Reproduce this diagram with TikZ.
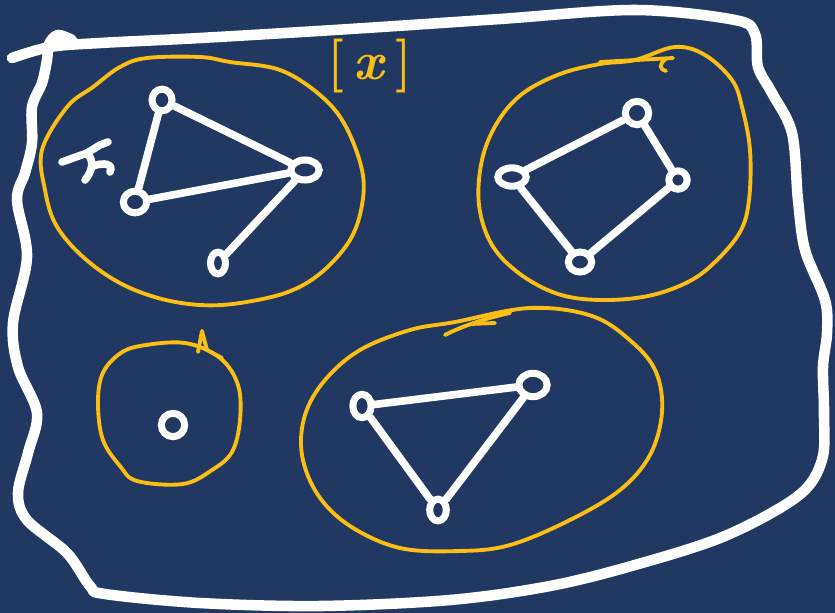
\documentclass[tikz,border=0pt]{standalone}
\usepackage{fontspec}
\usepackage{xcolor}
\usepackage{tikz}
\usetikzlibrary{
  positioning,
  shapes.geometric
}
\definecolor{boardnavy}{RGB}{33, 56, 99}
\definecolor{chalkyellow}{RGB}{250, 190, 20}

\begin{document}
\begin{tikzpicture}[x=0.03cm,y=-0.03cm,
  vtx/.style={ellipse,draw=white,line width=6pt,inner sep=0pt,minimum width=5.5mm,minimum height=5.5mm},
  link/.style={white,line width=6.5pt,line cap=round},
  hull/.style={chalkyellow,line width=3.3pt,line cap=round,line join=round},
  frame/.style={white,line width=9pt,line cap=round,line join=round}]
\fill[boardnavy] (0,0) rectangle (835,613);
\useasboundingbox (0,0) rectangle (835,613);
% outer boundary
\draw[frame] plot[smooth,tension=0.55] coordinates {
  (12,58) (50,47) (100,43) (200,38) (350,29) (500,19) (635,10) (735,20) (755,34)
  (758,67) (772,93) (792,133) (798,200) (805,250) (825,300) (827,333) (823,367)
  (824,413) (822,460) (798,496) (725,536) (635,565) (550,586) (450,600) (320,606)
  (200,603) (105,594) (90,586) (67,553) (27,520) (18,493) (28,453) (37,413)
  (18,367) (13,323) (27,257) (17,200) (25,173) (32,143) (32,107) (42,83) (47,60)
  (49,44) (58,35) (72,40)};
% hulls
\draw[hull] plot[smooth cycle,tension=0.6] coordinates {
  (67,107) (93,87) (120,67) (147,58) (200,57) (230,62) (280,70) (320,95) (345,125)
  (362,170) (362,205) (350,240) (322,272) (288,292) (240,303) (200,305) (158,298)
  (118,282) (82,256) (56,225) (45,190) (42,150)};
\draw[hull] plot[smooth cycle,tension=0.6] coordinates {
  (635,60) (675,47) (705,55) (732,80) (742,107) (750,150) (749,200) (740,232)
  (715,262) (688,282) (648,296) (600,300) (558,294) (520,274) (492,245) (479,205)
  (482,160) (497,123) (522,94) (560,74) (600,64)};
\draw[hull] plot[smooth cycle,tension=0.6] coordinates {
  (140,346) (185,343) (220,358) (238,385) (240,420) (232,452) (212,470) (183,484)
  (137,481) (120,466) (103,440) (98,405) (102,375) (118,355)};
\draw[hull] plot[smooth cycle,tension=0.6] coordinates {
  (455,322) (530,308) (592,316) (632,342) (656,372) (662,412) (650,455) (620,490)
  (570,520) (510,545) (460,551) (400,548) (350,526) (318,495) (302,455) (305,415)
  (325,380) (360,350) (410,330)};
% small marks on the hulls
\draw[hull] (198,352) -- (202,331) -- (207,350) -- (222,358);
\draw[hull] (600,62) -- (673,58);
\draw[hull] (666,59) .. controls (658,64) and (660,70) .. (666,71);
\draw[hull] (445,335) .. controls (462,326) and (490,317) .. (510,313);
\draw[hull] (470,324) -- (495,323);
% label marks
\draw[link] (62,162) -- (87,153) -- (100,145) -- (108,142);
\draw[link] (87,154) .. controls (95,160) and (92,172) .. (85,180);
\draw[link] (93,166) .. controls (104,162) and (114,164) .. (110,172);
\node[chalkyellow,font=\fontsize{46}{46}\selectfont\bfseries] (lbl) at (370,66) {[\,\textit{x}\,]};
% vertices
\node[vtx,minimum width=6mm,minimum height=6.5mm] (a1) at (162,100) {};
\node[vtx,minimum width=8.5mm,minimum height=6mm] (a2) at (305,170) {};
\node[vtx,minimum width=7mm,minimum height=6.5mm] (a3) at (135,202) {};
\node[vtx,minimum width=4.5mm,minimum height=6.5mm] (a4) at (218,263) {};
\node[vtx,minimum width=7mm,minimum height=7mm] (b1) at (637,113) {};
\node[vtx,minimum width=8.5mm,minimum height=5.5mm] (b2) at (512,177) {};
\node[vtx,minimum width=5.5mm,minimum height=5.5mm] (b3) at (678,180) {};
\node[vtx,minimum width=7mm,minimum height=6mm] (b4) at (580,262) {};
\node[vtx,minimum width=7mm,minimum height=7mm] (c1) at (173,425) {};
\node[vtx,minimum width=5.5mm,minimum height=7mm] (d1) at (362,406) {};
\node[vtx,minimum width=8.5mm,minimum height=7mm] (d2) at (533,385) {};
\node[vtx,minimum width=5mm,minimum height=6.5mm] (d3) at (438,510) {};
% edges
\draw[link] (a1) -- (a2);
\draw[link] (a1) -- (a3);
\draw[link] (a3) -- (a2);
\draw[link] (a2) -- (a4);
\draw[link] (b1) -- (b2);
\draw[link] (b1) -- (b3);
\draw[link] (b3) -- (b4);
\draw[link] (b2) -- (b4);
\draw[link] (d1) -- (d2);
\draw[link] (d2) -- (d3);
\draw[link] (d1) -- (d3);
\end{tikzpicture}
\end{document}
